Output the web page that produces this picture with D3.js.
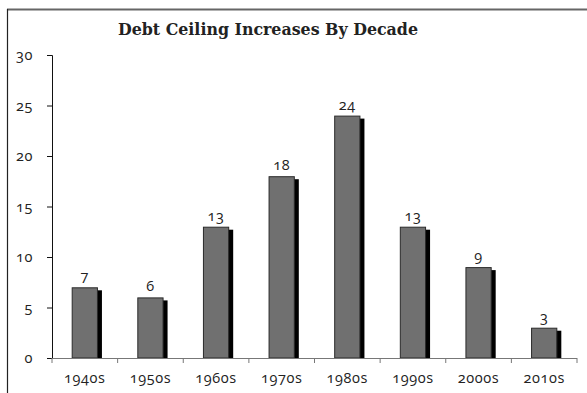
<!DOCTYPE html>
<html><head><meta charset="utf-8">
<script src="https://cdn.jsdelivr.net/npm/d3@7"></script>
<style>
body{margin:0;background:#fff;}
svg{display:block;}
.num{font-family:"Open Sans","DejaVu Sans",sans-serif;font-size:14.5px;letter-spacing:0.6px;font-variant-numeric:oldstyle-nums;fill:#222;}
</style></head>
<body><svg id="c" width="587" height="393"></svg>
<script>
const categories = ["1940s","1950s","1960s","1970s","1980s","1990s","2000s","2010s"];
const values = [7,6,13,18,24,13,9,3];
const yTicks = [0,5,10,15,20,25,30];
const title = "Debt Ceiling Increases By Decade";

(function(){
const svg = d3.select("#c");
const mLeft = 52, mRight = 577, mTop = 55, mBottom = 358;

// frame
svg.append("line").attr("x1",7).attr("x2",587).attr("y1",9.5).attr("y2",9.5).attr("stroke","#666").attr("stroke-width",2);
svg.append("line").attr("x1",7.5).attr("x2",7.5).attr("y1",9).attr("y2",393).attr("stroke","#222").attr("stroke-width",1.2);

svg.append("text").attr("x",268).attr("y",35).attr("text-anchor","middle")
  .attr("font-family","'DejaVu Serif',Georgia,serif").attr("font-weight","bold").attr("font-size",16)
  .attr("textLength",300).attr("lengthAdjust","spacingAndGlyphs").attr("fill","#222").text(title);

const x = d3.scaleBand().domain(categories).range([mLeft,mRight]).paddingInner(0.6).paddingOuter(0.3);
const y = d3.scaleLinear().domain([0,30]).range([mBottom,mTop]);

// y axis
const ya = svg.append("g").attr("transform",`translate(${mLeft},0)`)
  .call(d3.axisLeft(y).tickValues(yTicks).tickSize(5).tickPadding(14));
ya.select(".domain").attr("stroke","#111");
ya.selectAll(".tick line").attr("stroke","#111");
ya.selectAll("text").attr("class","num").attr("font-family",null).attr("font-size",null);
ya.attr("font-family",null).attr("font-size",null);

// bars
const step = x.step(), off = (step - x.bandwidth())/2;
const g = svg.append("g");
g.selectAll("rect.sh").data(values).join("rect").attr("class","sh")
  .attr("x",(d,i)=>x(categories[i])+4).attr("y",d=>y(d)+3)
  .attr("width",x.bandwidth()).attr("height",d=>mBottom-y(d)-3).attr("fill","#000");
g.selectAll("rect.b").data(values).join("rect").attr("class","b")
  .attr("x",(d,i)=>x(categories[i])+0.5).attr("y",d=>y(d)+0.5)
  .attr("width",x.bandwidth()-1).attr("height",d=>mBottom-y(d)-0.5)
  .attr("fill","#707070").attr("stroke","#2a2a2a").attr("stroke-width",1);
g.selectAll("text.v").data(values).join("text").attr("class","num v")
  .attr("x",(d,i)=>x(categories[i])+x.bandwidth()/2).attr("y",d=>y(d)-6)
  .attr("text-anchor","middle").text(d=>d);

// x axis
svg.append("line").attr("x1",mLeft).attr("x2",mRight).attr("y1",mBottom+0.5).attr("y2",mBottom+0.5).attr("stroke","#777");
const bounds = categories.map(c=>x(c)-off).concat([x(categories[categories.length-1])+x.bandwidth()+off]);
svg.selectAll("line.xt").data(bounds).join("line").attr("class","xt")
  .attr("x1",d=>d).attr("x2",d=>d).attr("y1",mBottom).attr("y2",mBottom+5).attr("stroke","#777");
svg.selectAll("text.xl").data(categories).join("text").attr("class","num xl")
  .attr("x",c=>x(c)+x.bandwidth()/2).attr("y",383).attr("text-anchor","middle").text(c=>c);
})();
</script></body></html>
